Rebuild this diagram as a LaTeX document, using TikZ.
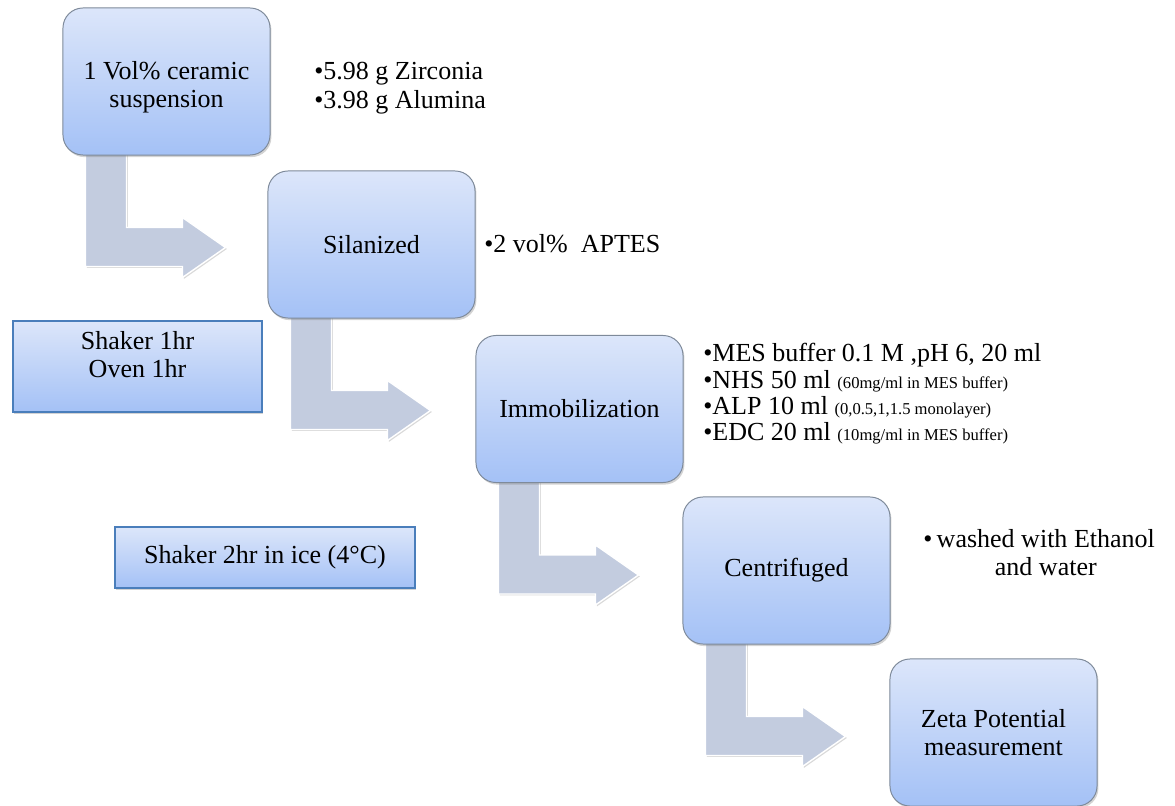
\documentclass[tikz,border=0pt]{standalone}
\usepackage{fontspec}
\setmainfont{Liberation Serif}
\newfontfamily\timesfont{Liberation Serif}
\usepackage{tikz}
\usetikzlibrary{shadows,backgrounds}

\definecolor{boxtop}{HTML}{DCE6FA}
\definecolor{boxbot}{HTML}{A4C1F6}
\definecolor{boxline}{HTML}{7E8A9A}
\definecolor{noteline}{HTML}{4A7EBB}
\definecolor{arrowfill}{HTML}{C3CCDF}

\newcommand{\smalltxt}[1]{{\fontsize{11.8}{13}\selectfont #1}}
% bent block arrow hanging below a step box
\newcommand{\bentarrow}[1]{%
  \draw[flowarrow] ([shift={(23,-10)}]#1.south west) -- ++(41,0) -- ++(0,82) -- ++(56,0)
    -- ++(0,-10) -- ++(43,30) -- ++(-43,30) -- ++(0,-11) -- ++(-97,0) -- cycle;}

\begin{document}
\begin{tikzpicture}[x=0.025cm, y=-0.025cm,
  every node/.style={font=\timesfont\fontsize{18.5}{19.5}\selectfont},
  process/.style={draw=boxline, line width=0.7pt, rounded corners=0.5cm,
    top color=boxtop, bottom color=boxbot, align=center,
    minimum width=5.175cm, minimum height=3.675cm,
    drop shadow={opacity=0.35, shadow xshift=1pt, shadow yshift=-1.5pt}},
  note/.style={draw=noteline, line width=0.8pt, top color=boxtop, bottom color=boxbot,
    align=center, drop shadow={opacity=0.35, shadow xshift=1pt, shadow yshift=-1.5pt}},
  flowarrow/.style={fill=arrowfill, draw=white, line width=1pt,
    drop shadow={opacity=0.3, shadow xshift=1pt, shadow yshift=-1pt}},
  list/.style={anchor=west, inner sep=0pt, align=left}]
  \useasboundingbox (0,0) rectangle (1175,806);

  \node[process] (s1) at (166.5,81.5) {\rule{0pt}{21pt}1 Vol\% ceramic\\suspension};
  \node[process] (s2) at (371.5,244.5) {Silanized};
  \node[process] (s3) at (579.5,409) {Immobilization};
  \node[process] (s4) at (786.5,570.5) {Centrifuged};
  \node[process] (s5) at (993.5,732.5) {Zeta Potential\\measurement};

  \begin{pgfonlayer}{background}
    \foreach \s in {s1,s2,s3,s4} {\bentarrow{\s}}
  \end{pgfonlayer}

  \node[note, minimum width=6.225cm, minimum height=2.275cm, text depth=17pt] (n1) at (137.5,366.5) {Shaker 1hr\\Oven 1hr};
  \node[note, minimum width=7.5cm, minimum height=1.525cm] (n2) at (265,557.5) {Shaker 2hr in ice (4°C)};

  \node[list] (l1) at (314,88) {•5.98 g Zirconia\\[1pt]•3.98 g Alumina};
  \node[list] (l2) at (484,244) {•2 vol\%\ \ APTES};
  \node[list, font=\timesfont\fontsize{18.5}{18.7}\selectfont] (l3) at (703,394) {•MES buffer 0.1 M ,pH 6, 20 ml\\
    •NHS 50 ml \smalltxt{(60mg/ml in MES buffer)}\\
    •ALP 10 ml \smalltxt{(0,0.5,1,1.5 monolayer)}\\
    •EDC 20 ml \smalltxt{(10mg/ml in MES buffer)}};
  \node[list] (l4) at (923,556) {•\,\begin{tabular}[t]{@{}c@{}}washed with Ethanol\\and water\end{tabular}};
\end{tikzpicture}
\end{document}
